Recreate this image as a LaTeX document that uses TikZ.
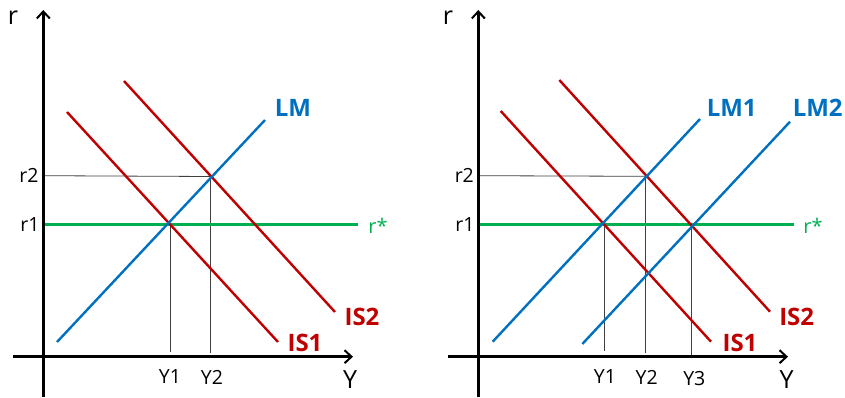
\documentclass[tikz,border=0pt]{standalone}
\usepackage{fontspec}
\setmainfont{Open Sans}
\usetikzlibrary{arrows.meta}
\definecolor{isred}{HTML}{C00000}
\definecolor{lmblue}{HTML}{0070C0}
\definecolor{rgreen}{HTML}{00B050}
\begin{document}
\begin{tikzpicture}[x=1pt,y=-1pt,
  axis/.style={line width=2.6pt,-{Straight Barb[length=7pt,width=13pt,line width=2pt]}},
  iscurve/.style={isred,line width=2.4pt},
  lmcurve/.style={lmblue,line width=2.4pt},
  rline/.style={rgreen,line width=3pt},
  guide/.style={black!75,line width=0.8pt},
  tick/.style={inner sep=0pt,font=\fontsize{19.5}{21}\selectfont},
  axlab/.style={inner sep=0pt,font=\fontsize{25}{27}\selectfont},
  islab/.style={inner sep=0pt,isred,font=\bfseries\fontsize{24}{26}\selectfont},
  lmlab/.style={inner sep=0pt,lmblue,font=\bfseries\fontsize{24}{26}\selectfont},
  starlab/.style={inner sep=0pt,rgreen,font=\fontsize{20}{22}\selectfont}]
\useasboundingbox (0,0) rectangle (845,398);
% ---------- left panel ----------
\coordinate (Ly0) at (43.3,397); \coordinate (Ly1) at (43.3,10);
\coordinate (Lx0) at (13,356.7); \coordinate (Lx1) at (353,356.7);
\coordinate (LMa) at (57,342); \coordinate (LMb) at (265,120);
\coordinate (IS1a) at (67,112); \coordinate (IS1b) at (278,342);
\coordinate (IS2a) at (124,81); \coordinate (IS2b) at (335,312);
\coordinate (Lr2a) at (43.3,175.7); \coordinate (Lr2b) at (210.5,176.5);
\coordinate (Lr1a) at (43.3,224.3); \coordinate (Lr1b) at (358,224.3);
\coordinate (LY1t) at (170,224.3); \coordinate (LY1b) at (170,351.7);
\coordinate (LY2t) at (210.3,176.5); \coordinate (LY2b) at (210.3,353);
\draw[guide] (Lr2a) -- (Lr2b);
\draw[guide] (LY1t) -- (LY1b);
\draw[guide] (LY2t) -- (LY2b);
\draw[rline] (Lr1a) -- (Lr1b);
\draw[iscurve] (IS1a) -- (IS1b);
\draw[iscurve] (IS2a) -- (IS2b);
\draw[lmcurve] (LMa) -- (LMb);
\draw[axis] (Ly0) -- (Ly1);
\draw[axis] (Lx0) -- (Lx1);
\node[axlab] (Lr) at (13,18) {r};
\node[axlab] (LY) at (350,380) {Y};
\node[tick] (Lr2) at (29,175) {r2};
\node[tick] (Lr1) at (30,225) {r1};
\node[starlab] (Lrs) at (378,226) {r*};
\node[tick] (LY1) at (170,377) {Y1};
\node[tick] (LY2) at (212,377) {Y2};
\node[lmlab] (LLM) at (293,108) {LM};
\node[islab] (LIS2) at (362,317) {IS2};
\node[islab] (LIS1) at (305,343) {IS1};
% ---------- right panel ----------
\coordinate (Ry0) at (478.3,397); \coordinate (Ry1) at (478.3,10);
\coordinate (Rx0) at (448,356.7); \coordinate (Rx1) at (788,356.7);
\coordinate (RLM1a) at (492.7,341.7); \coordinate (RLM1b) at (700,119);
\coordinate (RLM2a) at (582.3,344); \coordinate (RLM2b) at (790,121.7);
\coordinate (RIS1a) at (500.7,111); \coordinate (RIS1b) at (711,341.7);
\coordinate (RIS2a) at (559.3,80); \coordinate (RIS2b) at (770,311.7);
\coordinate (Rr2a) at (478.3,175.7); \coordinate (Rr2b) at (645,176.3);
\coordinate (Rr1a) at (478.3,224.3); \coordinate (Rr1b) at (794.3,224.3);
\coordinate (RY1t) at (604.3,224.3); \coordinate (RY1b) at (604.3,351);
\coordinate (RY2t) at (645,176.3); \coordinate (RY2b) at (645,353);
\coordinate (RY3t) at (691.7,224.3); \coordinate (RY3b) at (691.7,356);
\draw[guide] (Rr2a) -- (Rr2b);
\draw[guide] (RY1t) -- (RY1b);
\draw[guide] (RY2t) -- (RY2b);
\draw[guide] (RY3t) -- (RY3b);
\draw[rline] (Rr1a) -- (Rr1b);
\draw[iscurve] (RIS1a) -- (RIS1b);
\draw[iscurve] (RIS2a) -- (RIS2b);
\draw[lmcurve] (RLM1a) -- (RLM1b);
\draw[lmcurve] (RLM2a) -- (RLM2b);
\draw[axis] (Ry0) -- (Ry1);
\draw[axis] (Rx0) -- (Rx1);
\node[axlab] (Rr) at (448,18) {r};
\node[axlab] (RY) at (786.7,380) {Y};
\node[tick] (Rr2) at (464.3,175) {r2};
\node[tick] (Rr1) at (465,225) {r1};
\node[starlab] (Rrs) at (813,226) {r*};
\node[tick] (RY1) at (605,377) {Y1};
\node[tick] (RY2) at (646.7,377) {Y2};
\node[tick] (RY3) at (694.3,379) {Y3};
\node[lmlab] (RLM1) at (731.7,108) {LM1};
\node[lmlab] (RLM2) at (817.7,108) {LM2};
\node[islab] (RIS2) at (796.7,317) {IS2};
\node[islab] (RIS1) at (740,343) {IS1};
\end{tikzpicture}
\end{document}
